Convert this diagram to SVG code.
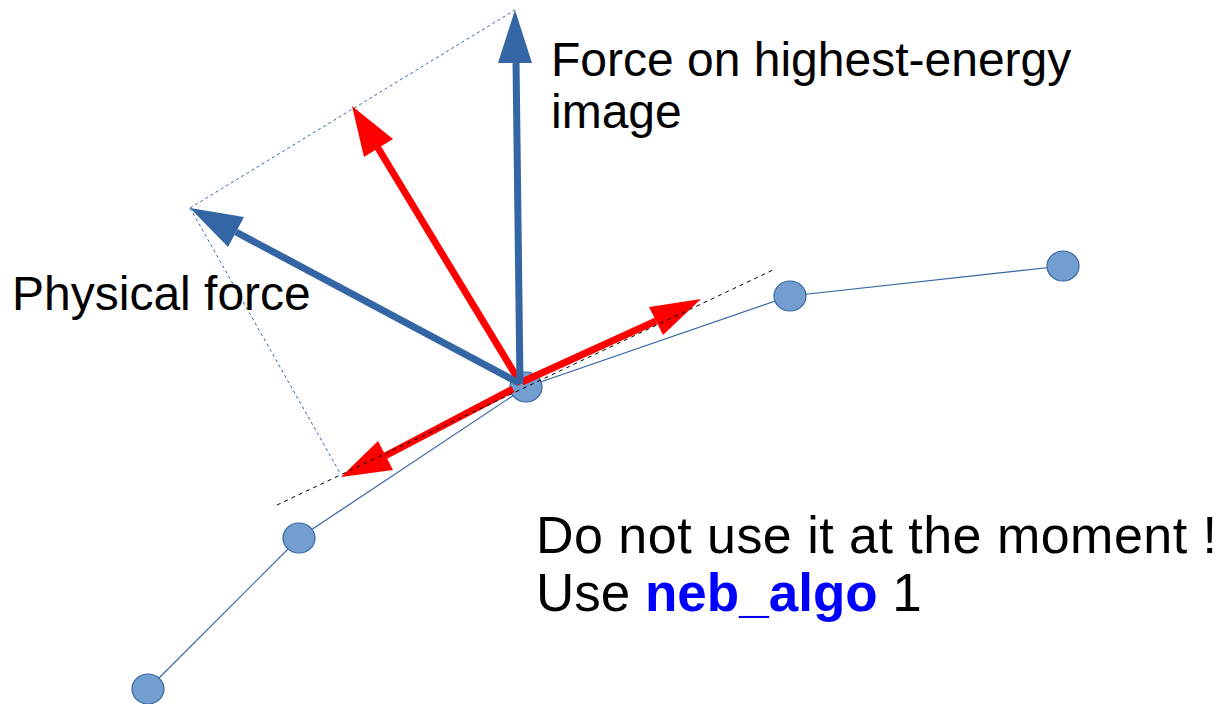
<svg xmlns="http://www.w3.org/2000/svg" width="1221" height="704" viewBox="0 0 1221 704">
<style>
.path{stroke:#3465a4;stroke-width:1.2;fill:none}
.node{fill:#729fcf;stroke:#3465a4;stroke-width:1.2}
.blue{stroke:#3465a4;stroke-width:7;fill:none}
.bluehead{fill:#3465a4}
.red{stroke:#ff0000;stroke-width:7;fill:none}
.redhead{fill:#ff0000}
.dotblue{stroke:#3465a4;stroke-width:1;stroke-dasharray:3 3;fill:none}
.dashblack{stroke:#000;stroke-width:1;stroke-dasharray:4 4;fill:none}
.t{font-family:"Liberation Sans",Arial,sans-serif;fill:#000}
</style>
<rect width="1221" height="704" fill="#fff"/>
<g id="connectors">
<line class="path" x1="148" y1="689" x2="299" y2="538"/>
<line class="path" x1="299" y1="538" x2="526" y2="387"/>
<line class="path" x1="526" y1="387" x2="790" y2="296"/>
<line class="path" x1="790" y1="296" x2="1063" y2="266"/>
<line class="dotblue" x1="190" y1="208" x2="515" y2="10"/>
<line class="dotblue" x1="190" y1="208" x2="340" y2="473"/>
</g>
<g id="node1"><ellipse class="node" cx="148" cy="689" rx="16" ry="15"/></g>
<g id="node2"><ellipse class="node" cx="299" cy="538" rx="16" ry="15"/></g>
<g id="node3"><ellipse class="node" cx="526" cy="387" rx="16" ry="15"/></g>
<g id="node4"><ellipse class="node" cx="790" cy="296" rx="16" ry="15"/></g>
<g id="node5"><ellipse class="node" cx="1063" cy="266" rx="16" ry="15"/></g>
<g id="arrows">
<line class="red" x1="513" y1="389" x2="385" y2="456"/>
<polygon class="redhead" points="341,477 378,441 393,470"/>
<line class="red" x1="521" y1="384" x2="378" y2="148"/>
<polygon class="redhead" points="352,106 393,139 364,157"/>
<line class="red" x1="522" y1="382" x2="656" y2="321"/>
<polygon class="redhead" points="701,299 649,307 663,335"/>
<line class="blue" x1="519" y1="383" x2="236" y2="232"/>
<polygon class="bluehead" points="190,208 244,217 228,247"/>
<line class="blue" x1="520" y1="384" x2="516" y2="60"/>
<polygon class="bluehead" points="515,10 532,63 498,63"/>
<line class="dashblack" x1="277" y1="505" x2="775" y2="269"/>
</g>
<g id="labels">
<text class="t" x="551" y="76" font-size="48">Force on highest-energy</text>
<text class="t" x="551" y="128" font-size="48">image</text>
<text class="t" x="12" y="310" font-size="48">Physical force</text>
<text class="t" x="536" y="553" font-size="52" textLength="681" lengthAdjust="spacing">Do not use it at the moment !</text>
<text class="t" x="536" y="611" font-size="53">Use <tspan fill="#0000ff" font-weight="bold">neb_algo</tspan> 1</text>
</g>
</svg>
